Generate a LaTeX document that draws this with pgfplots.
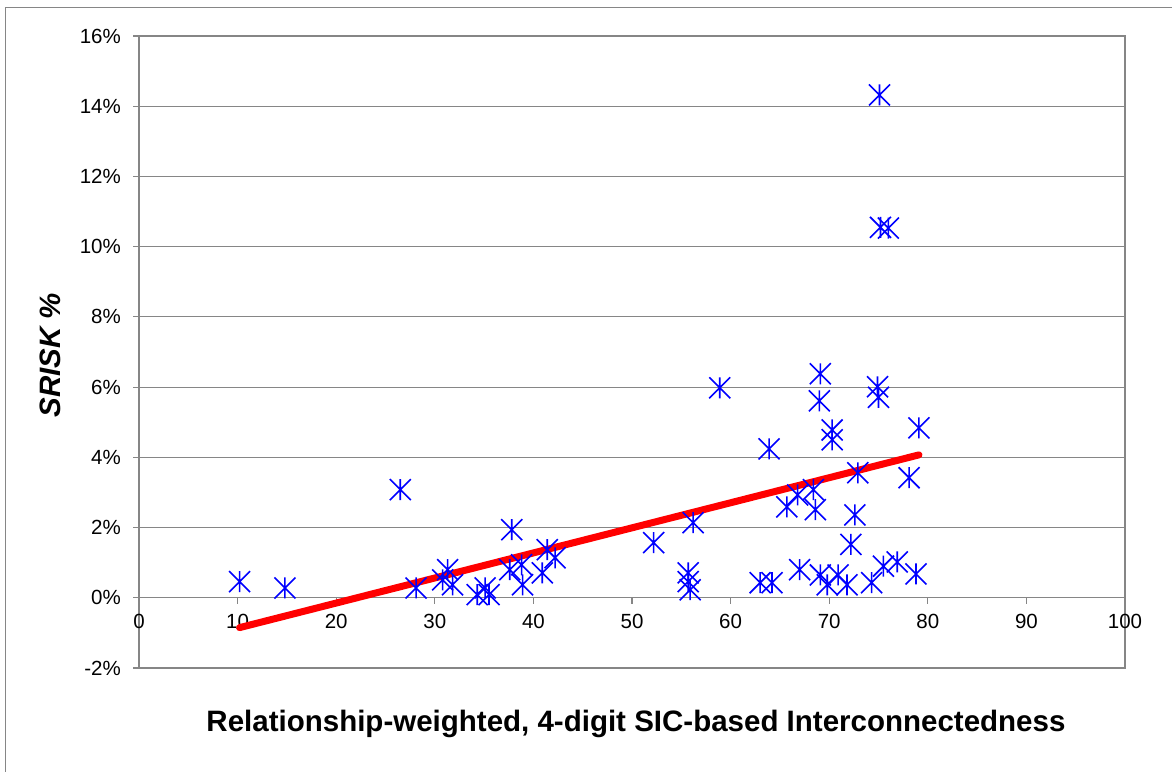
\documentclass[border=0pt]{standalone}
\usepackage{fontspec}
\setmainfont{Liberation Sans}
\usepackage{pgfplots}
\pgfplotsset{compat=1.18}
\definecolor{gridgray}{RGB}{134,134,134}
\definecolor{starblue}{RGB}{0,0,255}
\definecolor{fitred}{RGB}{255,0,0}
\pgfdeclareplotmark{xstar}{%
  \pgfpathmoveto{\pgfqpoint{-\pgfplotmarksize}{-\pgfplotmarksize}}%
  \pgfpathlineto{\pgfqpoint{\pgfplotmarksize}{\pgfplotmarksize}}%
  \pgfpathmoveto{\pgfqpoint{-\pgfplotmarksize}{\pgfplotmarksize}}%
  \pgfpathlineto{\pgfqpoint{\pgfplotmarksize}{-\pgfplotmarksize}}%
  \pgfpathmoveto{\pgfqpoint{0pt}{-\pgfplotmarksize}}%
  \pgfpathlineto{\pgfqpoint{0pt}{\pgfplotmarksize}}%
  \pgfusepathqstroke}
\pgfplotstableread{
x y
10.2 0.46
14.8 0.28
26.5 3.08
28.1 0.28
30.8 0.51
31.3 0.80
31.8 0.37
34.3 0.09
35.1 0.28
35.5 0.09
37.8 1.94
37.6 0.80
38.8 0.94
38.9 0.37
40.9 0.71
41.4 1.37
42.2 1.14
52.2 1.57
56.2 2.14
55.7 0.71
55.7 0.46
55.9 0.23
58.9 5.98
63.9 4.24
63.0 0.43
64.2 0.43
67.0 0.80
65.7 2.59
66.8 2.93
68.4 3.08
68.6 2.51
69.1 6.38
69.0 5.61
70.3 4.78
70.3 4.50
72.9 3.56
72.6 2.36
72.2 1.52
69.1 0.65
69.8 0.37
70.9 0.65
71.8 0.37
74.3 0.43
75.5 0.90
76.9 1.02
78.8 0.68
78.1 3.42
79.1 4.84
75.1 14.32
75.2 10.55
76.0 10.53
74.9 6.01
75.0 5.71
}\srisk
\begin{document}
\begin{tikzpicture}
\useasboundingbox (0,0) rectangle (1172bp,-772bp);
\draw[gridgray, line width=1bp] (5.5bp,-7.5bp) rectangle (1190bp,-790bp);
\begin{axis}[
  at={(139bp,-36bp)}, anchor=north west,
  scale only axis, width=986bp, height=632bp,
  xmin=0, xmax=100, ymin=-2, ymax=16,
  xtick={0,10,...,100}, ytick={-2,0,...,16},
  axis line style={gridgray, line width=1.2bp},
  ymajorgrids, grid style={gridgray, line width=1.2bp},
  xtick pos=bottom, ytick pos=left,
  xtick style={draw=none},
  ytick style={gridgray, line width=1.2bp},
  ytick align=outside, major tick length=6bp,
  /pgf/number format/assume math mode=true,
  tick label style={font=\fontsize{20.5bp}{24bp}\selectfont, text=black},
  yticklabel={\pgfmathprintnumber{\tick}\%},
  yticklabel style={anchor=east, inner sep=0pt, xshift=-12bp},
  xticklabel style={anchor=center, inner sep=0pt, yshift=47bp},
  xlabel={Relationship-weighted, 4-digit SIC-based Interconnectedness},
  ylabel={\textit{SRISK \%}},
  label style={font=\bfseries\fontsize{29.5bp}{34bp}\selectfont},
  xlabel style={at={(axis description cs:0.504,-0.0997)}, anchor=base, inner sep=0pt},
  ylabel style={at={(axis description cs:-0.0903,0.495)}, anchor=center, inner sep=0pt},
  clip=false,
]
\pgfplotsinvokeforeach{10,20,...,100}{\draw[gridgray, line width=1.2bp] (axis cs:#1,0) -- ([yshift=-6bp]axis cs:#1,0);}
\addplot[only marks, mark=xstar, mark size=10.5bp, starblue, line width=1.6bp] table[x=x,y=y]{\srisk};
\addplot[fitred, line width=7bp, line cap=round] coordinates {(10.2,-0.85) (79.1,4.07)};
\end{axis}
\end{tikzpicture}
\end{document}
